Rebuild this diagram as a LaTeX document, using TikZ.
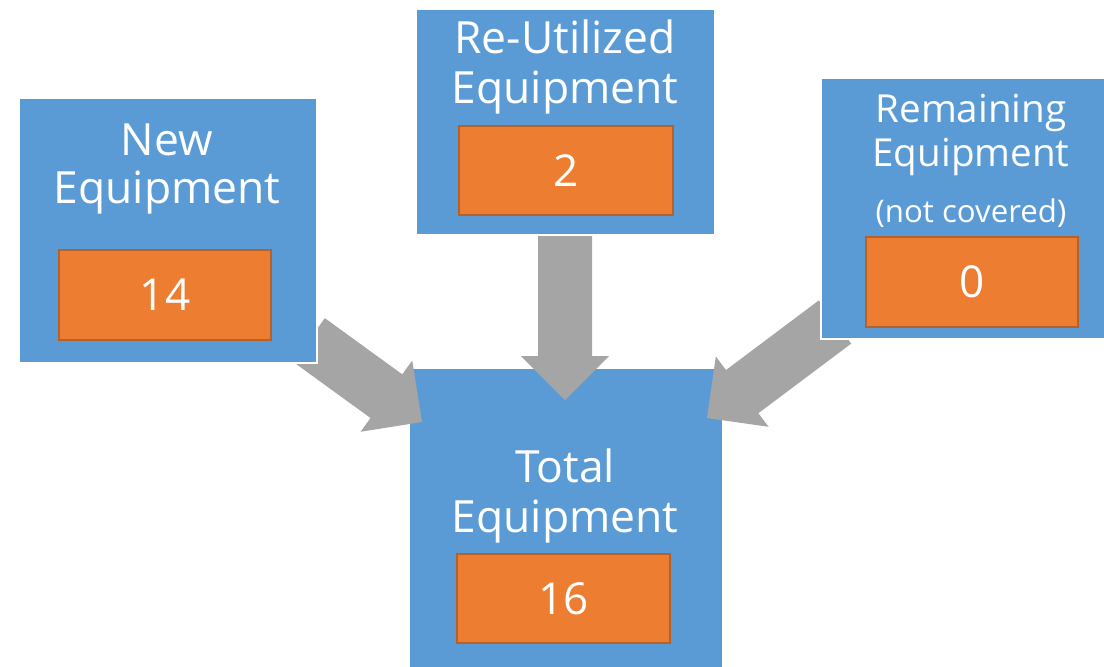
\documentclass[tikz,border=0pt]{standalone}
\usepackage{fontspec}
\setmainfont{Open Sans}
\usetikzlibrary{calc}
\definecolor{boxblue}{HTML}{5B9BD5}
\definecolor{boxorange}{HTML}{ED7D31}
\definecolor{orangeedge}{HTML}{B4612A}
\definecolor{arrowgray}{HTML}{A5A5A5}
\tikzset{
  bluebox/.style={draw=white, line width=1pt, fill=boxblue, inner sep=0pt, anchor=north west},
  numbox/.style={draw=orangeedge, line width=1.1pt, fill=boxorange, inner sep=0pt, anchor=north west,
    text=white, font=\fontsize{22}{25}\selectfont},
  bigtxt/.style={text=white, anchor=base, inner sep=0pt, font=\fontsize{22.2}{25}\selectfont},
  midtxt/.style={text=white, anchor=base, inner sep=0pt, font=\fontsize{19.3}{22}\selectfont},
  smalltxt/.style={text=white, anchor=base, inner sep=0pt, font=\fontsize{15.6}{18}\selectfont},
  garrow/.style={fill=arrowgray}
}
\newcommand\blockarrow[2]{%
  \coordinate (ba-b) at ($(#2)!22pt!(#1)$);
  \fill[garrow] ($(#1)!13.5pt!90:(#2)$) -- ($(ba-b)!13.5pt!90:(#2)$) -- ($(ba-b)!22pt!90:(#2)$)
    -- (#2) -- ($(ba-b)!22pt!-90:(#2)$) -- ($(ba-b)!13.5pt!-90:(#2)$) -- ($(#1)!13.5pt!-90:(#2)$) -- cycle;
}
\begin{document}
\begin{tikzpicture}[x=0.5pt,y=-0.5pt]
\useasboundingbox (0,0) rectangle (1104,666);
% total box
\node[bluebox, minimum width=157pt, minimum height=150pt] (total) at (408,367) {};
\node[bigtxt] (total-l1) at (565,482) {Total};
\node[bigtxt] (total-l2) at (565,532) {Equipment};
\node[numbox, minimum width=106.5pt, minimum height=44.5pt] (total-n) at (456,553) {16};
% arrows
\coordinate (la-t) at (309,340); \coordinate (la-p) at (422,422);
\coordinate (ma-t) at (565,236); \coordinate (ma-p) at (565,400);
\coordinate (ra-t) at (835,322); \coordinate (ra-p) at (707,418);
\blockarrow{la-t}{la-p}
\blockarrow{ma-t}{ma-p}
\blockarrow{ra-t}{ra-p}
% new
\node[bluebox, minimum width=149pt, minimum height=132.5pt] (new) at (18,97) {};
\node[bigtxt] (new-l1) at (167,155) {New};
\node[bigtxt] (new-l2) at (167,203) {Equipment};
\node[numbox, minimum width=106pt, minimum height=45pt] (new-n) at (58,249) {14};
% re-utilized
\node[bluebox, minimum width=149.5pt, minimum height=113pt] (reu) at (415,8) {};
\node[bigtxt] (reu-l1) at (565,53) {Re-Utilized};
\node[bigtxt] (reu-l2) at (565,103) {Equipment};
\node[numbox, minimum width=107pt, minimum height=44.5pt] (reu-n) at (458,125) {2};
% remaining
\node[bluebox, minimum width=150pt, minimum height=130.5pt] (rem) at (820,77) {};
\node[midtxt] (rem-l1) at (971,122) {Remaining};
\node[midtxt] (rem-l2) at (971,166) {Equipment};
\node[smalltxt] (rem-l3) at (971,222) {(not covered)};
\node[numbox, minimum width=106pt, minimum height=45pt] (rem-n) at (865,236) {0};
\end{tikzpicture}
\end{document}
